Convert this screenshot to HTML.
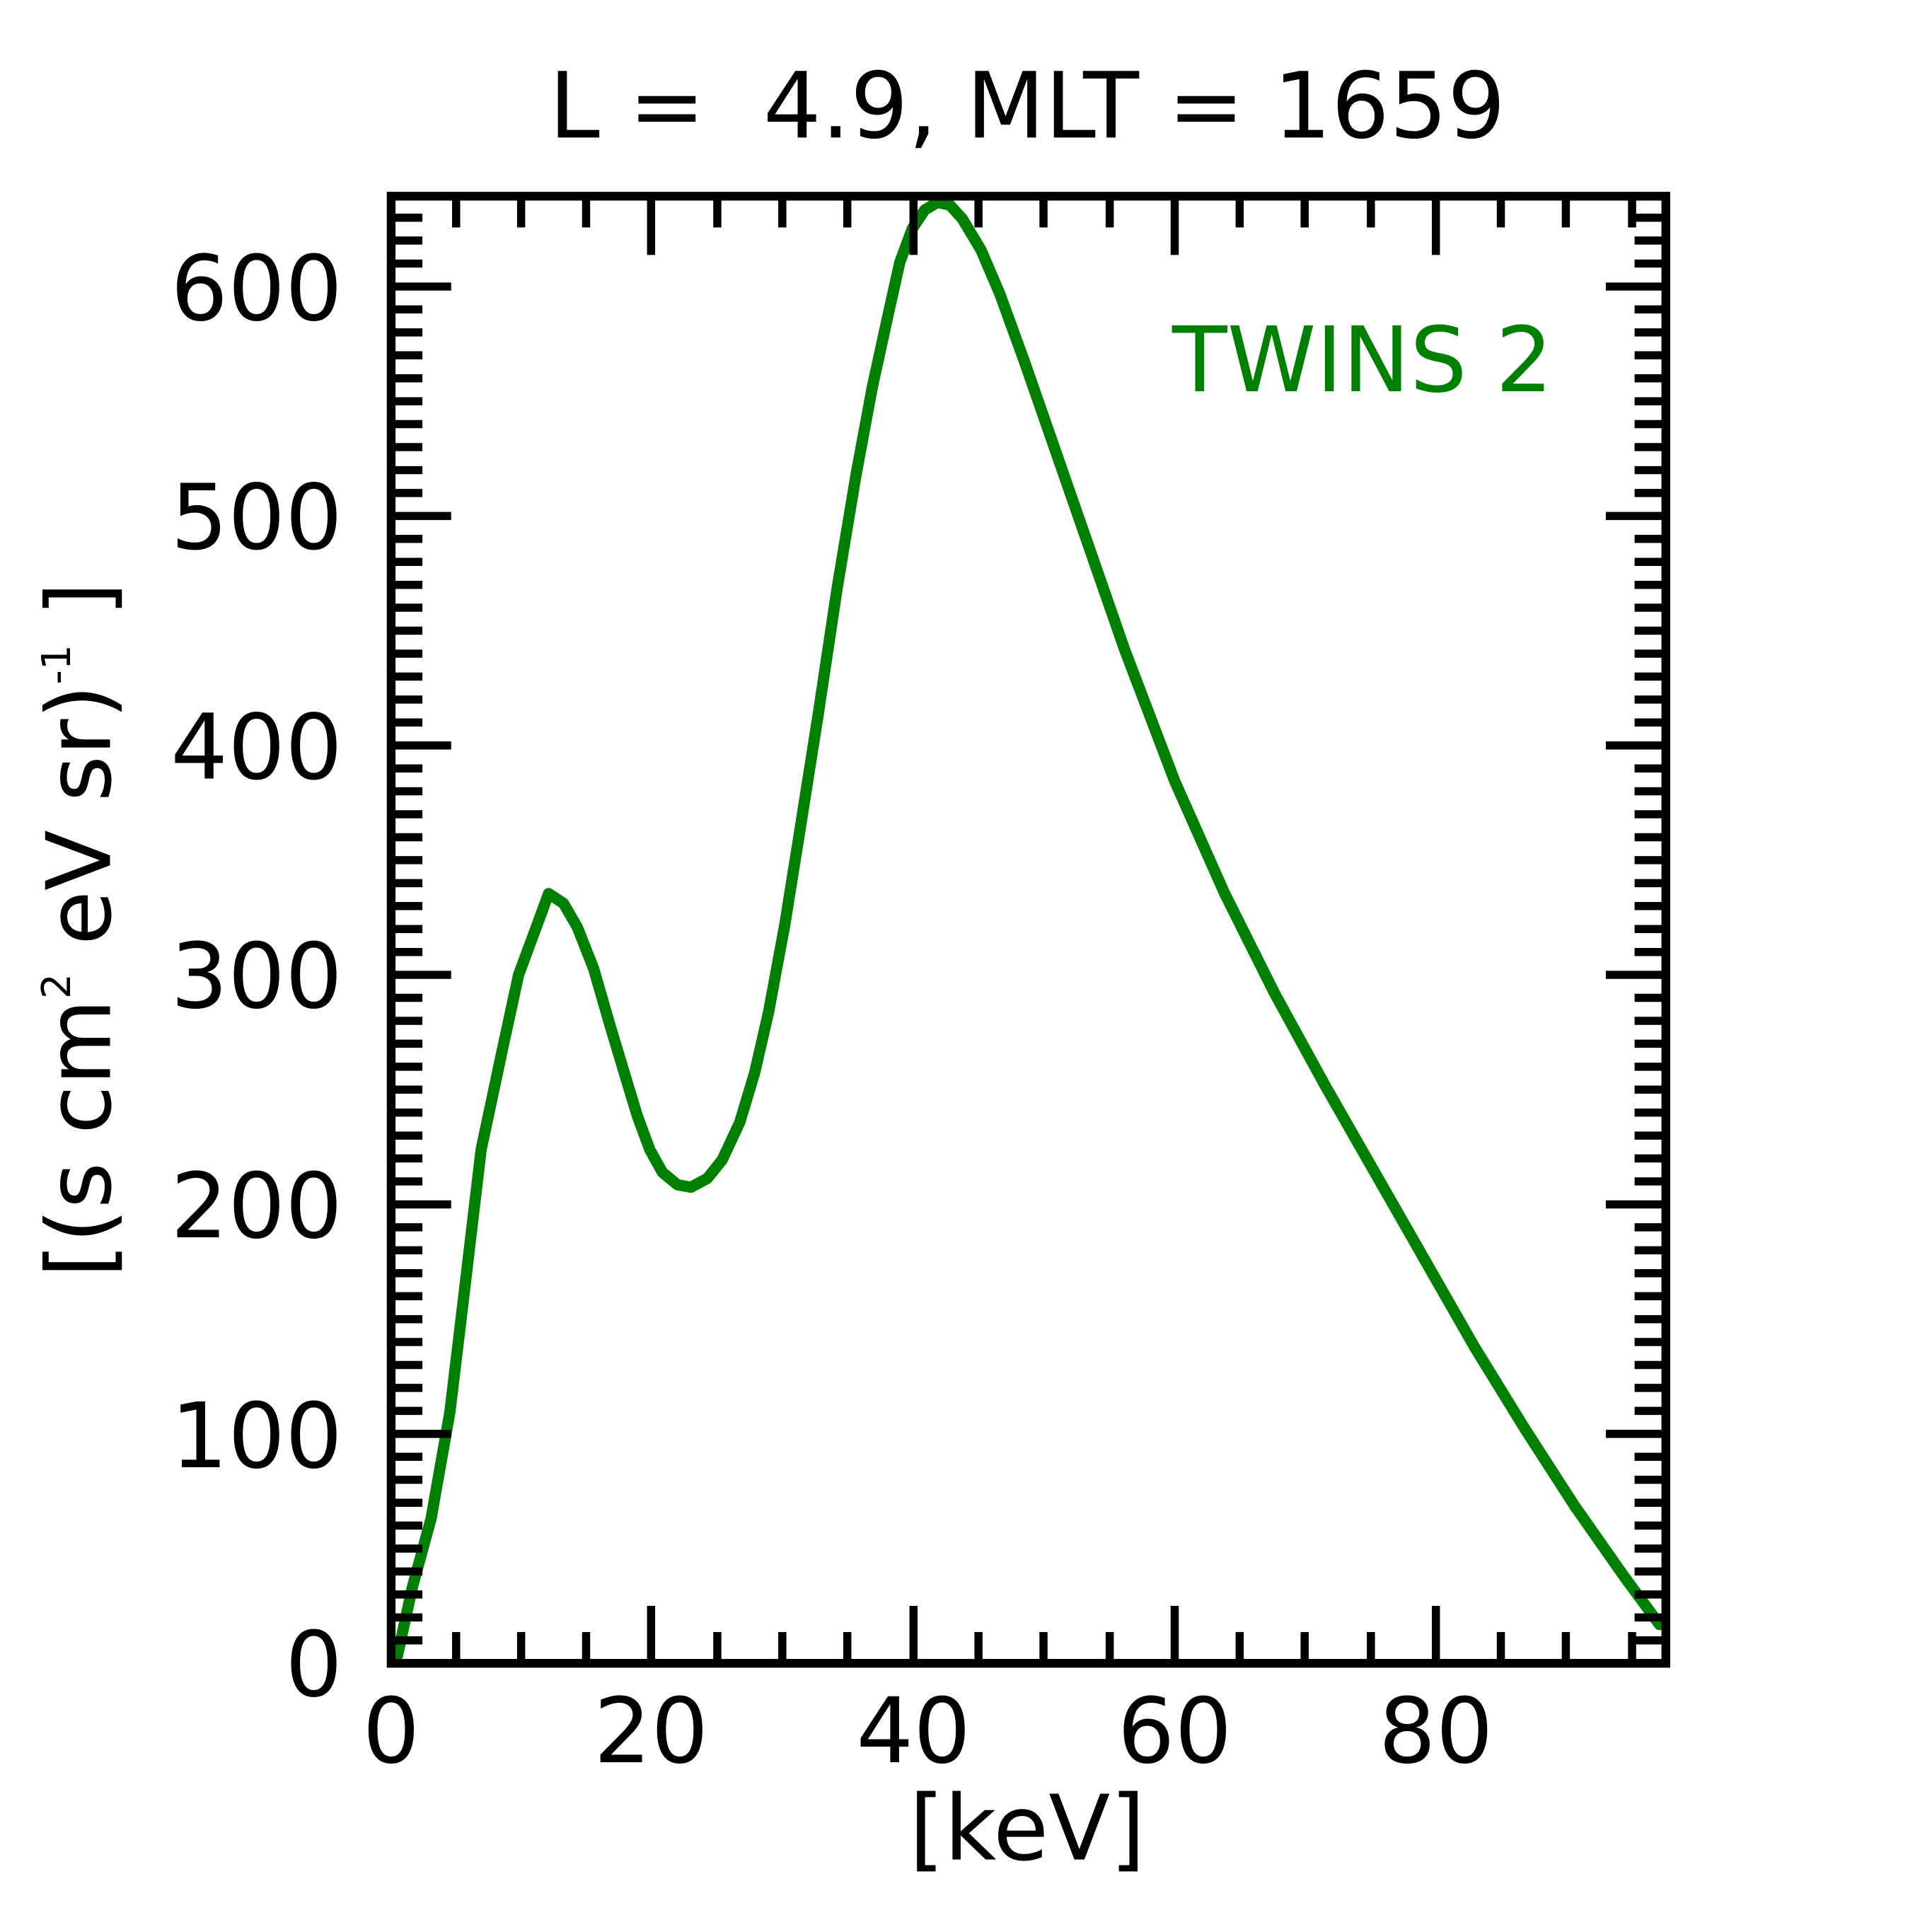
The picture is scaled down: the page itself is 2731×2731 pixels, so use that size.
<!DOCTYPE html>
<html><head><style>html,body{margin:0;padding:0;background:#fff}svg{display:block}</style></head>
<body>
<svg width="2731" height="2731" viewBox="0 0 1546 1546" xmlns="http://www.w3.org/2000/svg" font-family="DejaVu Sans, Liberation Sans, sans-serif">
<rect width="1546" height="1546" fill="#fff"/>
<defs><clipPath id="c"><rect x="313" y="157" width="1020" height="1174"/></clipPath></defs>
<polyline clip-path="url(#c)" fill="none" stroke="#008000" stroke-width="9" stroke-linejoin="round" stroke-linecap="round" points="318,1325 330,1270 345,1215 360,1130 372,1030 385,920 402,840 415,780 428,745 439,715 451,723 462,742 475,775 488,820 500,860 510,893 520,920 530,938 542,948 553,950 566,943 578,928 592,898 604,858 615,810 628,740 640,665 655,570 670,470 685,380 698,310 710,255 720,210 730,183 740,168 750,162 760,164 770,175 785,200 800,235 820,290 860,405 900,520 940,625 980,715 1020,795 1060,868 1100,938 1140,1008 1180,1078 1220,1143 1260,1205 1300,1262 1328,1300"/>
<g stroke="#000" stroke-width="6.5">
<path d="
M365,1331V1306 M417,1331V1306 M469,1331V1306 M521,1331V1285 M574,1331V1306 M626,1331V1306 M678,1331V1306 M731,1331V1285 M783,1331V1306 M835,1331V1306 M888,1331V1306 M940,1331V1285 M992,1331V1306 M1044,1331V1306 M1097,1331V1306 M1149,1331V1285 M1201,1331V1306 M1253,1331V1306 M1306,1331V1306
M365,157V182 M417,157V182 M469,157V182 M521,157V204 M574,157V182 M626,157V182 M678,157V182 M731,157V204 M783,157V182 M835,157V182 M888,157V182 M940,157V204 M992,157V182 M1044,157V182 M1097,157V182 M1149,157V204 M1201,157V182 M1253,157V182 M1306,157V182"/>
<path d="
M313,1312.6H338 M313,1294.3H338 M313,1275.9H338 M313,1257.5H338 M313,1239.2H338 M313,1220.8H338 M313,1202.5H338 M313,1184.1H338 M313,1165.7H338 M313,1147.4H361 M313,1129H338 M313,1110.6H338 M313,1092.3H338 M313,1073.9H338 M313,1055.6H338 M313,1037.2H338 M313,1018.8H338 M313,1000.5H338 M313,982.1H338 M313,963.8H361 M313,945.4H338 M313,927H338 M313,908.7H338 M313,890.3H338 M313,871.9H338 M313,853.6H338 M313,835.2H338 M313,816.9H338 M313,798.5H338 M313,780.1H361 M313,761.8H338 M313,743.4H338 M313,725H338 M313,706.7H338 M313,688.3H338 M313,670H338 M313,651.6H338 M313,633.2H338 M313,614.9H338 M313,596.5H361 M313,578.1H338 M313,559.8H338 M313,541.4H338 M313,523.1H338 M313,504.7H338 M313,486.3H338 M313,468H338 M313,449.6H338 M313,431.2H338 M313,412.9H361 M313,394.5H338 M313,376.2H338 M313,357.8H338 M313,339.4H338 M313,321.1H338 M313,302.7H338 M313,284.3H338 M313,266H338 M313,247.6H338 M313,229.3H361 M313,210.9H338 M313,192.5H338 M313,174.2H338
M1333,1312.6H1308 M1333,1294.3H1308 M1333,1275.9H1308 M1333,1257.5H1308 M1333,1239.2H1308 M1333,1220.8H1308 M1333,1202.5H1308 M1333,1184.1H1308 M1333,1165.7H1308 M1333,1147.4H1285 M1333,1129H1308 M1333,1110.6H1308 M1333,1092.3H1308 M1333,1073.9H1308 M1333,1055.6H1308 M1333,1037.2H1308 M1333,1018.8H1308 M1333,1000.5H1308 M1333,982.1H1308 M1333,963.8H1285 M1333,945.4H1308 M1333,927H1308 M1333,908.7H1308 M1333,890.3H1308 M1333,871.9H1308 M1333,853.6H1308 M1333,835.2H1308 M1333,816.9H1308 M1333,798.5H1308 M1333,780.1H1285 M1333,761.8H1308 M1333,743.4H1308 M1333,725H1308 M1333,706.7H1308 M1333,688.3H1308 M1333,670H1308 M1333,651.6H1308 M1333,633.2H1308 M1333,614.9H1308 M1333,596.5H1285 M1333,578.1H1308 M1333,559.8H1308 M1333,541.4H1308 M1333,523.1H1308 M1333,504.7H1308 M1333,486.3H1308 M1333,468H1308 M1333,449.6H1308 M1333,431.2H1308 M1333,412.9H1285 M1333,394.5H1308 M1333,376.2H1308 M1333,357.8H1308 M1333,339.4H1308 M1333,321.1H1308 M1333,302.7H1308 M1333,284.3H1308 M1333,266H1308 M1333,247.6H1308 M1333,229.3H1285 M1333,210.9H1308 M1333,192.5H1308 M1333,174.2H1308"/>
</g>
<rect x="313" y="157" width="1020" height="1174" fill="none" stroke="#000" stroke-width="7"/>
<text x="822" y="110" font-size="73" text-anchor="middle">L = &#160;4.9, MLT = 1659</text>
<text x="938" y="313" font-size="72" fill="#008000">TWINS 2</text>
<g font-size="72" text-anchor="end">
<text x="274" y="1357">0</text>
<text x="274" y="1174">100</text>
<text x="274" y="990">200</text>
<text x="274" y="806">300</text>
<text x="274" y="623">400</text>
<text x="274" y="439">500</text>
<text x="274" y="256">600</text>
</g>
<g font-size="72" text-anchor="middle">
<text x="313" y="1410">0</text>
<text x="521" y="1410">20</text>
<text x="731" y="1410">40</text>
<text x="940" y="1410">60</text>
<text x="1149" y="1410">80</text>
<text x="822" y="1488">[keV]</text>
</g>
<text transform="translate(88,744) rotate(-90)" font-size="71" text-anchor="middle">[(s cm<tspan font-size="32" dy="-32">2</tspan><tspan dy="32"> eV sr)</tspan><tspan font-size="32" dy="-32">-1</tspan><tspan dy="32"> ]</tspan></text>
</svg>
</body></html>
